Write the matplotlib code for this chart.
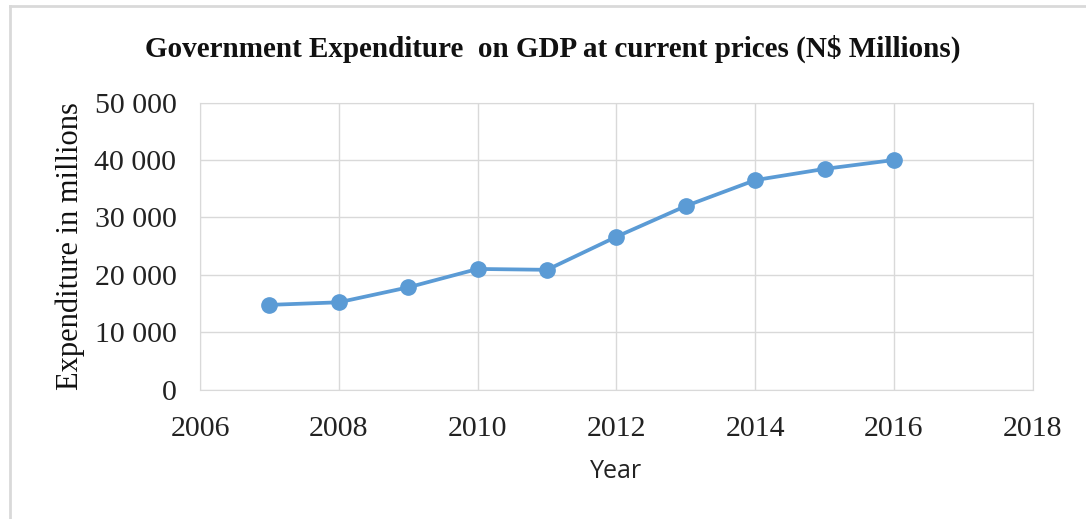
import matplotlib.pyplot as plt
from matplotlib.ticker import FuncFormatter
from matplotlib.lines import Line2D

years = [2007, 2008, 2009, 2010, 2011, 2012, 2013, 2014, 2015, 2016]
expenditure = [14800, 15250, 17850, 21050, 20900, 26650, 32000, 36500, 38450, 40000]

fig = plt.figure(figsize=(10.86, 5.19), dpi=100)
ax = fig.add_axes([0.1842, 0.2486, 0.7668, 0.5539])

ax.plot(years, expenditure, color='#5B9BD5', linewidth=2.7,
        marker='o', markersize=11, zorder=3)

ax.set_xlim(2006, 2018)
ax.set_ylim(0, 50000)
ax.set_xticks(range(2006, 2019, 2))
ax.set_yticks(range(0, 50001, 10000))
ax.yaxis.set_major_formatter(FuncFormatter(lambda v, p: f'{int(v):,}'.replace(',', ' ')))

ax.grid(True, color='#D9D9D9', linewidth=1)
ax.set_axisbelow(True)
for s in ax.spines.values():
    s.set_color('#D9D9D9')
ax.tick_params(axis='y', length=0, pad=17)
ax.tick_params(axis='x', length=0, pad=19)
for lbl in ax.get_yticklabels() + ax.get_xticklabels():
    lbl.set_fontfamily('Liberation Serif')
    lbl.set_fontsize(21.5)
    lbl.set_color('#222222')

ax.set_ylabel('Expenditure in millions', fontfamily='Liberation Serif', fontsize=22,
              color='#111111', labelpad=7)
ax.set_xlabel('Year', fontfamily='Open Sans', fontsize=18, color='#222222', labelpad=12)

fig.text(0.509, 0.905, 'Government Expenditure  on GDP at current prices (N$ Millions)',
         ha='center', va='center', fontfamily='Liberation Serif', fontweight='bold',
         fontsize=21, color='#111111')

# outer chart border (only left and top visible)
fig.add_artist(Line2D([0.0092, 0.0092], [0, 0.988], color='#D9D9D9', linewidth=2,
                      transform=fig.transFigure))
fig.add_artist(Line2D([0.0092, 1], [0.988, 0.988], color='#D9D9D9', linewidth=2,
                      transform=fig.transFigure))

fig.savefig('out.png', dpi=100)
